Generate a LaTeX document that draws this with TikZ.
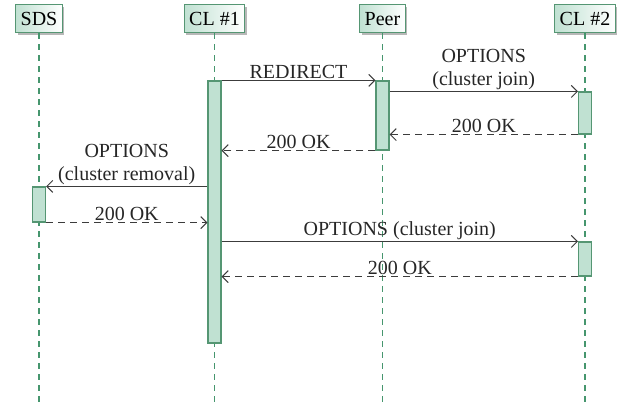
\documentclass[tikz,border=0pt]{standalone}
\usepackage{fontspec}
\setmainfont{Liberation Serif}
\usetikzlibrary{arrows.meta,shadows}
\definecolor{lifegreen}{RGB}{70,150,110}
\definecolor{boxedge}{RGB}{85,150,115}
\definecolor{actfill}{RGB}{192,225,210}
\definecolor{msgline}{RGB}{60,60,60}
\tikzset{
  actor/.style={draw=boxedge, line width=1.2pt, left color=actfill, right color=white,
    minimum height=28pt, inner xsep=5pt, inner ysep=0pt, anchor=north,
    drop shadow={shadow xshift=2pt, shadow yshift=-2pt, fill=black!35, opacity=0.8},
    font=\fontsize{20}{22}\selectfont},
  lifeline/.style={draw=lifegreen, line width=1.1pt, dash pattern=on 6pt off 5pt},
  act/.style={draw=boxedge, fill=actfill, line width=1.1pt, minimum width=13pt, inner sep=0pt},
  msg/.style={draw=msgline, line width=1.2pt, -{Straight Barb[length=6pt,width=12pt,line width=1pt]}},
  reply/.style={msg, dash pattern=on 7pt off 5pt},
  lbl/.style={text=black!85, font=\fontsize{20}{23}\selectfont, align=center, inner sep=1.5pt, above}
}
\begin{document}
\begin{tikzpicture}[x=1pt,y=-1pt]
  \useasboundingbox (0,0) rectangle (620,402);
  % participants
  \node[actor] (sds) at (39,4) {SDS};
  \node[actor] (cl1) at (214.5,4) {CL \#1};
  \node[actor] (peer) at (382.5,4) {Peer};
  \node[actor] (cl2) at (585,4) {CL \#2};
  % lifelines
  \coordinate (sdsend) at (39,402);
  \coordinate (cl1end) at (214.5,402);
  \coordinate (peerend) at (382.5,402);
  \coordinate (cl2end) at (585,402);
  \draw[lifeline] (sds.south) -- (sdsend);
  \draw[lifeline] (cl1.south) -- (cl1end);
  \draw[lifeline] (peer.south) -- (peerend);
  \draw[lifeline] (cl2.south) -- (cl2end);
  % activation bars
  \node[act, minimum height=262pt] (a1) at (214.5,212) {};
  \node[act, minimum height=69pt] (p1) at (382.5,115.5) {};
  \node[act, minimum height=42pt] (c2a) at (585,113) {};
  \node[act, minimum height=35pt] (s1) at (39,204.5) {};
  \node[act, minimum height=34pt] (c2b) at (585,259) {};
  % messages
  \draw[msg] (a1.north east) -- node[lbl] {REDIRECT} (p1.north west);
  \draw[msg] (p1.east |- c2a.north) -- node[lbl] {OPTIONS\\(cluster join)} (c2a.north west);
  \draw[reply] (c2a.south west) -- node[lbl] {200 OK} (p1.east |- c2a.south);
  \draw[reply] (p1.south west) -- node[lbl] {200 OK} (a1.east |- p1.south);
  \draw[msg] (a1.west |- s1.north) -- node[lbl] {OPTIONS\\(cluster removal)} (s1.north east);
  \draw[reply] (s1.south east) -- node[lbl] {200 OK} (a1.west |- s1.south);
  \draw[msg] (a1.east |- c2b.north) -- node[lbl] {OPTIONS (cluster join)} (c2b.north west);
  \draw[reply] (c2b.south west) -- node[lbl] {200 OK} (a1.east |- c2b.south);
\end{tikzpicture}
\end{document}
